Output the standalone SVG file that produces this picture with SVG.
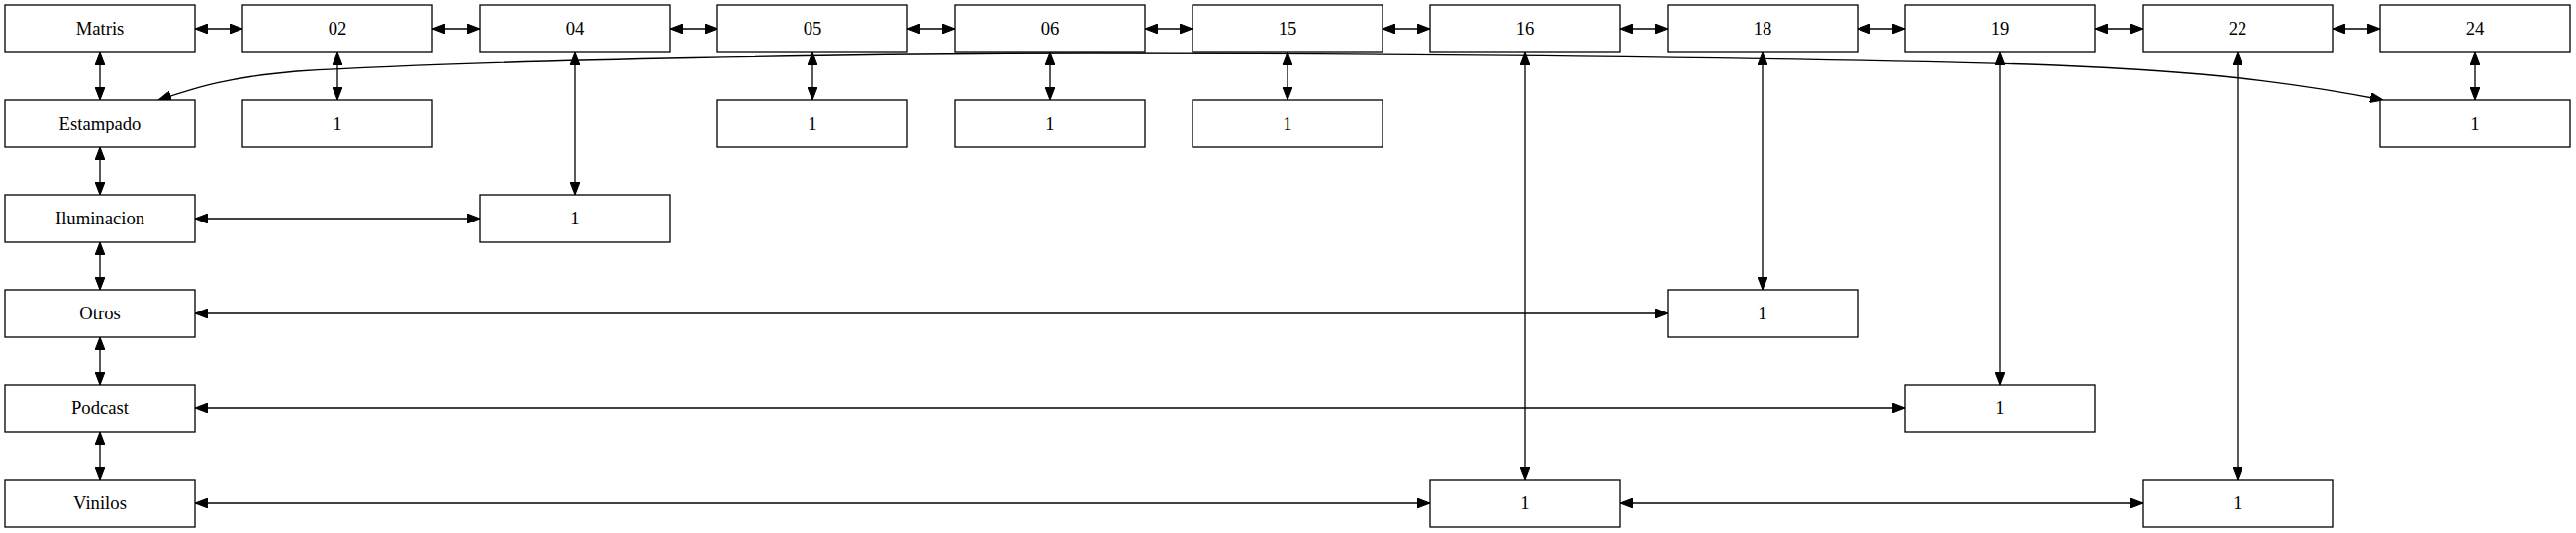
<svg xmlns="http://www.w3.org/2000/svg" width="2603" height="539" viewBox="0 0 2603 539">
<style>
.n rect{fill:#fff;stroke:#000;stroke-width:1.3}
.n text{font-family:"Liberation Serif","Times New Roman",serif;font-size:18.67px;text-anchor:middle;fill:#000}
.e path{fill:none;stroke:#000;stroke-width:1.3;marker-start:url(#a);marker-end:url(#a)}
</style>
<defs>
<marker id="a" viewBox="0 0 13 10" refX="13" refY="5" markerWidth="13" markerHeight="10" markerUnits="userSpaceOnUse" orient="auto-start-reverse">
<path d="M0,0L13,5L0,10z" fill="#000" stroke="#000" stroke-width="1"/>
</marker>
</defs>
<rect width="2603" height="539" fill="#fff"/>
<g id="connectors" class="e">
<path d="M197,29H245"/>
<path d="M437,29H485"/>
<path d="M677,29H725"/>
<path d="M917,29H965"/>
<path d="M1157,29H1205"/>
<path d="M1397,29H1445"/>
<path d="M1637,29H1685"/>
<path d="M1877,29H1925"/>
<path d="M2117,29H2165"/>
<path d="M2357,29H2405"/>
<path d="M101,53V101"/>
<path d="M101,149V197"/>
<path d="M101,245V293"/>
<path d="M101,341V389"/>
<path d="M101,437V485"/>
<path d="M341,53V101"/>
<path d="M581,53V197"/>
<path d="M821,53V101"/>
<path d="M1061,53V101"/>
<path d="M1301,53V101"/>
<path d="M1541,53V485"/>
<path d="M1781,53V293"/>
<path d="M2021,53V389"/>
<path d="M2261,53V485"/>
<path d="M2501,53V101"/>
<path d="M197,221H485"/>
<path d="M197,317H1685"/>
<path d="M197,413H1925"/>
<path d="M197,509H1445"/>
<path d="M1637,509H2165"/>
<path d="M160,101C200,88 230,78 300,72C500,60 900,54 1100,54C1400,54 1800,58 2050,65C2200,70 2300,80 2408,101"/>
</g>
<g id="Matris" class="n"><rect x="5" y="5" width="192" height="48"/><text x="101" y="35">Matris</text></g>
<g id="n02" class="n"><rect x="245" y="5" width="192" height="48"/><text x="341" y="35">02</text></g>
<g id="n04" class="n"><rect x="485" y="5" width="192" height="48"/><text x="581" y="35">04</text></g>
<g id="n05" class="n"><rect x="725" y="5" width="192" height="48"/><text x="821" y="35">05</text></g>
<g id="n06" class="n"><rect x="965" y="5" width="192" height="48"/><text x="1061" y="35">06</text></g>
<g id="n15" class="n"><rect x="1205" y="5" width="192" height="48"/><text x="1301" y="35">15</text></g>
<g id="n16" class="n"><rect x="1445" y="5" width="192" height="48"/><text x="1541" y="35">16</text></g>
<g id="n18" class="n"><rect x="1685" y="5" width="192" height="48"/><text x="1781" y="35">18</text></g>
<g id="n19" class="n"><rect x="1925" y="5" width="192" height="48"/><text x="2021" y="35">19</text></g>
<g id="n22" class="n"><rect x="2165" y="5" width="192" height="48"/><text x="2261" y="35">22</text></g>
<g id="n24" class="n"><rect x="2405" y="5" width="192" height="48"/><text x="2501" y="35">24</text></g>
<g id="Estampado" class="n"><rect x="5" y="101" width="192" height="48"/><text x="101" y="131">Estampado</text></g>
<g id="Iluminacion" class="n"><rect x="5" y="197" width="192" height="48"/><text x="101" y="227">Iluminacion</text></g>
<g id="Otros" class="n"><rect x="5" y="293" width="192" height="48"/><text x="101" y="323">Otros</text></g>
<g id="Podcast" class="n"><rect x="5" y="389" width="192" height="48"/><text x="101" y="419">Podcast</text></g>
<g id="Vinilos" class="n"><rect x="5" y="485" width="192" height="48"/><text x="101" y="515">Vinilos</text></g>
<g id="v02" class="n"><rect x="245" y="101" width="192" height="48"/><text x="341" y="131">1</text></g>
<g id="v05" class="n"><rect x="725" y="101" width="192" height="48"/><text x="821" y="131">1</text></g>
<g id="v06" class="n"><rect x="965" y="101" width="192" height="48"/><text x="1061" y="131">1</text></g>
<g id="v15" class="n"><rect x="1205" y="101" width="192" height="48"/><text x="1301" y="131">1</text></g>
<g id="v24" class="n"><rect x="2405" y="101" width="192" height="48"/><text x="2501" y="131">1</text></g>
<g id="v04" class="n"><rect x="485" y="197" width="192" height="48"/><text x="581" y="227">1</text></g>
<g id="v18" class="n"><rect x="1685" y="293" width="192" height="48"/><text x="1781" y="323">1</text></g>
<g id="v19" class="n"><rect x="1925" y="389" width="192" height="48"/><text x="2021" y="419">1</text></g>
<g id="v16" class="n"><rect x="1445" y="485" width="192" height="48"/><text x="1541" y="515">1</text></g>
<g id="v22" class="n"><rect x="2165" y="485" width="192" height="48"/><text x="2261" y="515">1</text></g>
</svg>
